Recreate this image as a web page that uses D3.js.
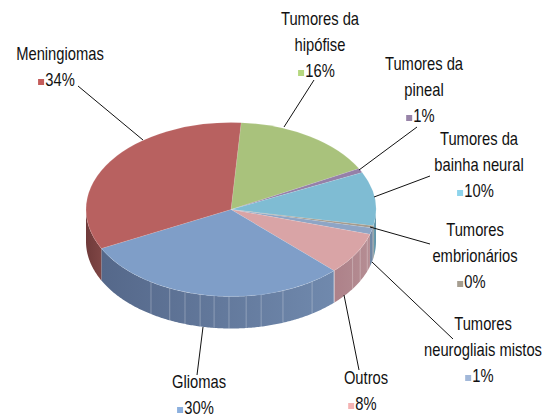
<!DOCTYPE html>
<html>
<head>
<meta charset="utf-8">
<script src="https://d3js.org/d3.v7.min.js"></script>
<style>
html, body { margin: 0; padding: 0; background: #fff; }
text { font-family: "Liberation Sans", sans-serif; font-size: 18px; fill: #111; text-anchor: middle; }
</style>
</head>
<body>
<svg id="chart" width="546" height="416"></svg>
<script>
// clockwise from the top of the pie
var categories = [
    ['Tumores da', 'hipófise'],
    ['Tumores da', 'pineal'],
    ['Tumores da', 'bainha neural'],
    ['Tumores', 'embrionários'],
    ['Tumores', 'neurogliais mistos'],
    ['Outros'],
    ['Gliomas'],
    ['Meningiomas']
];
var values = [16.1, 0.8, 10, 0.4, 1.2, 7.8, 30.2, 33.5];

var topColors = ['#a9c27c', '#9580a8', '#7fbcd3', '#a39a8c', '#8ea5c5', '#d9a4a6', '#7f9ec8', '#b86160'];
var keyColors = ['#b5d77f', '#9884a8', '#8ed4ec', '#a69e90', '#a2b8d9', '#f4b3b3', '#8cb0de', '#c45c5a'];
var sideLeft = ['#8a9f66', '#7a6a8a', '#6a9db0', '#857d72', '#748aa5', '#ad8189', '#55688a', '#6f3a3a'];
var sideRight = ['#8a9f66', '#7a6a8a', '#5f93a8', '#857d72', '#6f85a3', '#b58d93', '#7089ad', '#7f4645'];

// seams on the pie wall, degrees clockwise from the top
var seamAngles = [110, 117, 123, 146, 159, 168, 174, 180.8, 186.7, 192.3, 198.5, 205, 213.5];

var cx = 231, cy = 209.5, rx = 145, ry = 87, depth = 32;
var startDeg = 4;
var toRad = Math.PI / 180;
var condense = 0.82; // no condensed font installed, squeeze the text instead

var svg = d3.select('#chart');
var defs = svg.append('defs');

var pie = d3.pie()
    .sort(null)
    .startAngle(startDeg * toRad)
    .endAngle(startDeg * toRad + Math.PI * 2);
var slices = pie(values);

var arc = d3.arc().innerRadius(0).outerRadius(rx);

function px(t) { return cx + rx * Math.sin(t); }
function py(t, dz) { return cy - ry * Math.cos(t) + dz; }

var line = d3.line();

// wall of each slice, only the part facing us
slices.forEach(function(s, i) {
    var a0 = Math.max(s.startAngle, Math.PI / 2);
    var a1 = Math.min(s.endAngle, Math.PI * 1.5);
    if (a1 <= a0) return;

    var steps = d3.range(a0, a1, 0.01).concat([a1]);
    var pts = steps.map(function(t) { return [px(t), py(t, 0)]; });
    var low = steps.slice().reverse().map(function(t) { return [px(t), py(t, depth)]; });

    var gradId = 'wall' + i;
    var grad = defs.append('linearGradient')
        .attr('id', gradId)
        .attr('gradientUnits', 'userSpaceOnUse')
        .attr('x1', Math.min(px(a0), px(a1))).attr('x2', Math.max(px(a0), px(a1)))
        .attr('y1', 0).attr('y2', 0);
    grad.append('stop').attr('offset', '0%').attr('stop-color', sideLeft[i]);
    grad.append('stop').attr('offset', '100%').attr('stop-color', sideRight[i]);

    svg.append('path')
        .attr('d', line(pts.concat(low)) + 'Z')
        .style('fill', 'url(#' + gradId + ')');
});

// faint seams
seamAngles.forEach(function(d) {
    var t = d * toRad;
    svg.append('line')
        .attr('x1', px(t)).attr('y1', py(t, 0))
        .attr('x2', px(t)).attr('y2', py(t, depth))
        .style('stroke', 'rgba(255,255,255,0.28)')
        .style('stroke-width', 1);
});

// light edge between Outros and Gliomas on the wall
var edgeT = slices[5].endAngle;
svg.append('line')
    .attr('x1', px(edgeT)).attr('y1', py(edgeT, 0))
    .attr('x2', px(edgeT)).attr('y2', py(edgeT, depth))
    .style('stroke', 'rgba(255,255,255,0.6)')
    .style('stroke-width', 1);

// top face
svg.append('g')
    .attr('transform', 'translate(' + cx + ',' + cy + ') scale(1,' + (ry / rx) + ')')
    .selectAll('path')
    .data(slices)
    .enter()
    .append('path')
    .attr('d', arc)
    .style('fill', function(d, i) { return topColors[i]; })
    .style('stroke', 'rgba(255,255,255,0.2)')
    .style('stroke-width', 0.6);

// label layout, same order as categories: centre x, first baseline, leader line
var labelX = [320, 424, 479, 475, 483, 366, 199, 60];
var labelY = [25, 70, 145, 236, 330, 384, 388, 60];
var lineHeight = 26;
var leaders = [
    [[314, 80], [284, 127]],
    [[417, 127], [359, 170]],
    [[430, 176], [374, 197]],
    [[430, 244], [370, 227]],
    [[453, 339], [372, 262]],
    [[359, 370], [344, 295]],
    [[197, 375], [203, 327]],
    [[78, 86], [143, 140]]
];

svg.append('g').selectAll('line')
    .data(leaders)
    .enter()
    .append('line')
    .attr('x1', function(d) { return d[0][0]; })
    .attr('y1', function(d) { return d[0][1]; })
    .attr('x2', function(d) { return d[1][0]; })
    .attr('y2', function(d) { return d[1][1]; })
    .style('stroke', '#111')
    .style('stroke-width', 1);

function squeezed(holder, x, y, txt) {
    return holder.append('text')
        .attr('transform', 'translate(' + x + ',' + y + ') scale(' + condense + ',1)')
        .text(txt);
}

categories.forEach(function(lines, i) {
    var holder = svg.append('g');
    lines.forEach(function(txt, j) {
        squeezed(holder, labelX[i], labelY[i] + j * lineHeight, txt);
    });
    var valueY = labelY[i] + lines.length * lineHeight;
    var valueText = squeezed(holder, labelX[i], valueY, Math.round(values[i]) + '%');
    var halfWidth = valueText.node().getBBox().width * condense / 2;
    holder.append('rect')
        .attr('x', labelX[i] - halfWidth - 7)
        .attr('y', valueY - 7)
        .attr('width', 6)
        .attr('height', 6)
        .style('fill', keyColors[i]);
});
</script>
</body>
</html>
